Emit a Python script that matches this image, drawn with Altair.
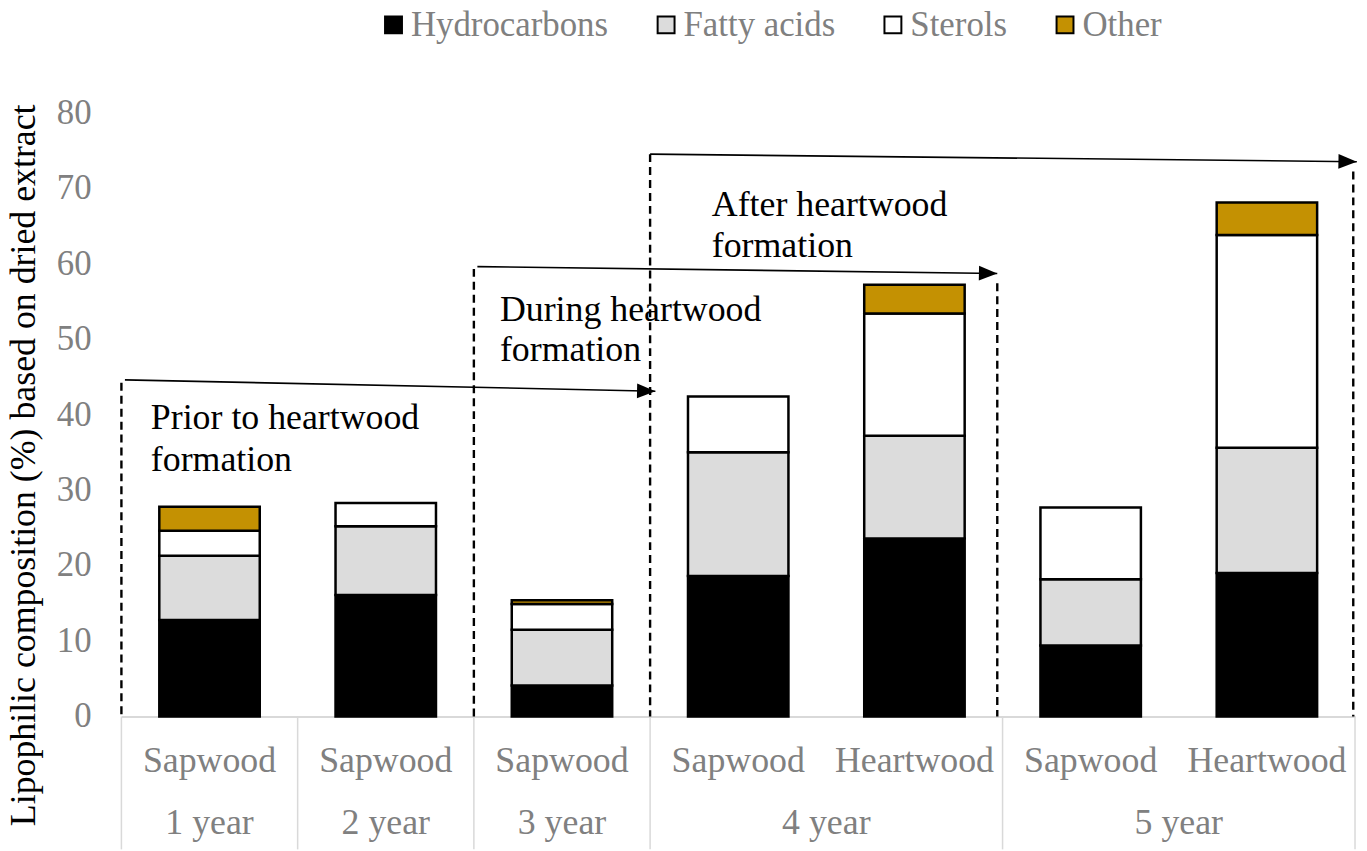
import altair as alt
import pandas as pd

FONT = "Liberation Serif"

# ---- data ----
keys = ["1 year|Sapwood", "2 year|Sapwood", "3 year|Sapwood", "4 year|Sapwood",
        "4 year|Heartwood", "5 year|Sapwood", "5 year|Heartwood"]
components = ["Hydrocarbons", "Fatty acids", "Sterols", "Other"]
colors = ["#000000", "#DCDCDC", "#FFFFFF", "#C49102"]

hydrocarbons = [12.8, 16.1, 4.1, 18.6, 23.6, 9.4, 19.0]
fatty_acids = [8.5, 9.1, 7.4, 16.4, 13.6, 8.8, 16.6]
sterols = [3.3, 3.1, 3.4, 7.4, 16.2, 9.5, 28.2]
other = [3.2, 0.0, 0.5, 0.0, 3.8, 0.0, 4.3]

y_ticks = [0, 10, 20, 30, 40, 50, 60, 70, 80]
y_tick_x = -0.169          # label column left of the plot, in category units
y_title = "Lipophilic composition (%) based on dried extract"

# group (year) labels along the bottom, positions in category units
year_labels = ["1 year", "2 year", "3 year", "4 year", "5 year"]
year_x = [0.5, 1.5, 2.5, 4.0, 6.0]
year_y = [-14.1] * 5
sep_x = [0, 1, 2, 3, 5, 7]

# dashed region boundaries (category units, data units)
dash_x = [0.0, 2.0, 3.0, 4.97, 6.99]
dash_top = [44.2, 59.3, 74.5, 57.4, 72.2]

# arrows
arrow_x0 = [0.02, 2.02, 3.0]
arrow_y0 = [44.6, 59.6, 74.5]
arrow_x1 = [3.03, 4.97, 7.01]
arrow_y1 = [43.1, 58.7, 73.5]

# annotation text lines
note_text = ["Prior to heartwood", "formation", "During heartwood", "formation",
             "After heartwood", "formation"]
note_x = [0.167, 0.167, 2.148, 2.148, 3.35, 3.35]
note_y = [39.5, 34.0, 53.9, 48.5, 67.7, 62.3]

# ---- tables ----
rows = []
series = [hydrocarbons, fatty_acids, sterols, other]
for i, k in enumerate(keys):
    for j, c in enumerate(components):
        v = series[j][i]
        if v > 0:
            rows.append({"key": k, "component": c, "value": v, "order": j})
bars_df = pd.DataFrame(rows)

ticks_df = pd.DataFrame({"x": [y_tick_x] * len(y_ticks), "y": y_ticks,
                         "text": [str(t) for t in y_ticks]})
years_df = pd.DataFrame({"x": year_x, "y": year_y, "text": year_labels})
sep_df = pd.DataFrame({"x": sep_x, "y": [0] * len(sep_x), "y2": [-17.6] * len(sep_x)})
dash_df = pd.DataFrame({"x": dash_x, "y": dash_top, "y2": [0] * len(dash_x)})
arrow_df = pd.DataFrame({"x": arrow_x0, "y": arrow_y0, "x2": arrow_x1, "y2": arrow_y1})
head_df = pd.DataFrame({"x": arrow_x1, "y": arrow_y1})
note_df = pd.DataFrame({"x": note_x, "y": note_y, "text": note_text})

yscale = alt.Scale(domain=[0, 80], nice=False, zero=False)
xq = alt.Scale(domain=[0, 7], nice=False, zero=False)
y_axis = alt.Axis(values=y_ticks, title=y_title, grid=False, ticks=False,
                  domain=False, labels=False,
                  titleFont=FONT, titleFontSize=36, titleColor="black",
                  titleFontWeight="normal", titleX=-87, titleY=354,
                  titleBaseline="alphabetic", titleAlign="center")


def yenc(field):
    return alt.Y(field, scale=yscale, axis=None)


bars = alt.Chart(bars_df).mark_bar(
    stroke="black", strokeWidth=2.5, width=alt.RelativeBandSize(0.57)
).encode(
    x=alt.X("key:N", sort=keys,
            scale=alt.Scale(paddingInner=0, paddingOuter=0),
            axis=alt.Axis(title=None, labelExpr="split(datum.value, '|')[1]",
                          labelAngle=0, ticks=False, domainColor="#D9D9D9",
                          domainWidth=2, labelPadding=44, labelBaseline="middle",
                          labelFont=FONT, labelFontSize=36, labelColor="#808080")),
    y=alt.Y("value:Q", stack="zero", scale=yscale, axis=y_axis, title=y_title),
    color=alt.Color("component:N",
                    scale=alt.Scale(domain=components, range=colors),
                    legend=alt.Legend(title=None, orient="none", legendX=256, legendY=-106,
                                      direction="horizontal", symbolType="square",
                                      symbolSize=289, symbolStrokeColor="black",
                                      symbolStrokeWidth=2, labelFont=FONT,
                                      labelFontSize=35, labelColor="#808080",
                                      labelOffset=0, columnPadding=40, padding=0,
                                      labelLimit=400)),
    order=alt.Order("order:Q", sort="ascending"),
)

tick_labels = alt.Chart(ticks_df).mark_text(
    font=FONT, fontSize=35, color="#808080", align="right", baseline="middle"
).encode(
    x=alt.X("x:Q", scale=xq, axis=None),
    y=yenc("y:Q"),
    text="text:N",
)

seps = alt.Chart(sep_df).mark_rule(color="#D9D9D9", strokeWidth=1.5).encode(
    x=alt.X("x:Q", scale=xq, axis=None),
    y=yenc("y:Q"),
    y2="y2:Q",
)

years = alt.Chart(years_df).mark_text(
    font=FONT, fontSize=36, color="#808080", align="center", baseline="middle"
).encode(
    x=alt.X("x:Q", scale=xq, axis=None),
    y=yenc("y:Q"),
    text="text:N",
)

dashes = alt.Chart(dash_df).mark_rule(color="black", strokeWidth=2.4, strokeDash=[8, 5]).encode(
    x=alt.X("x:Q", scale=xq, axis=None),
    y=yenc("y:Q"),
    y2="y2:Q",
)

arrows = alt.Chart(arrow_df).mark_rule(color="black", strokeWidth=1.6).encode(
    x=alt.X("x:Q", scale=xq, axis=None),
    y=yenc("y:Q"),
    x2="x2:Q",
    y2="y2:Q",
)

heads = alt.Chart(head_df).mark_point(
    shape="M0,0L-2,-0.8L-2,0.8Z", filled=True, color="black", opacity=1,
    size=340, angle=1
).encode(
    x=alt.X("x:Q", scale=xq, axis=None),
    y=yenc("y:Q"),
)

notes = alt.Chart(note_df).mark_text(
    font=FONT, fontSize=36, color="black", align="left", baseline="middle"
).encode(
    x=alt.X("x:Q", scale=xq, axis=None),
    y=yenc("y:Q"),
    text="text:N",
)

chart = alt.layer(bars, tick_labels, seps, years, dashes, arrows, heads, notes).resolve_scale(
    x="independent"
).resolve_axis(
    y="independent"
).properties(
    width=1240, height=607,
    autosize=alt.AutoSizeParams(type="none"),
    padding={"left": 114, "top": 103, "right": 4, "bottom": 133},
).configure_view(
    strokeWidth=0
).configure_axis(
    labelFont=FONT, titleFont=FONT, titleFontWeight="normal"
).configure_legend(
    labelFont=FONT
)

chart.save("out.html", embed_options={"renderer": "svg", "actions": False})
